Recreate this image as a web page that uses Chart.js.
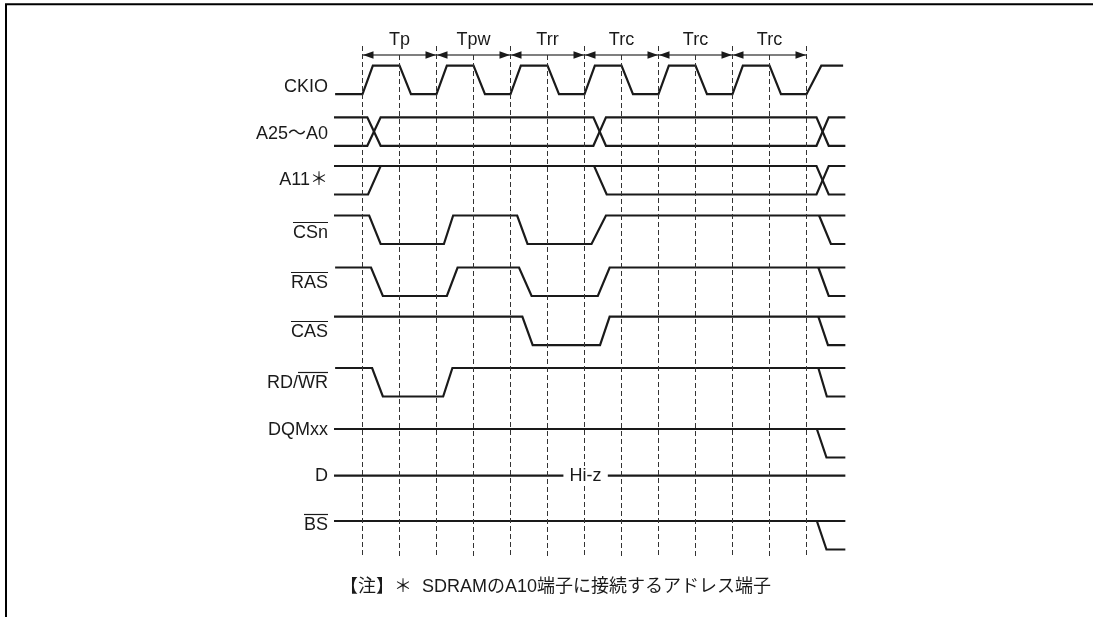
<!DOCTYPE html>
<html>
<head>
<meta charset="utf-8">
<script src="https://cdn.jsdelivr.net/npm/chart.js@4.4.0/dist/chart.umd.min.js"></script>
<style>
  body { margin: 0; background: #fff; }
</style>
</head>
<body>
<canvas id="timingChart" width="1093" height="617"></canvas>
<script>
// Horloge : une ligne pointillée par demi-période (t = 0..12)
const gridTimes = [0, 1, 2, 3, 4, 5, 6, 7, 8, 9, 10, 11, 12];
const phaseLabels = ['Tp', 'Tpw', 'Trr', 'Trc', 'Trc', 'Trc'];
const phaseStart = [0, 2, 4, 6, 8, 10];
const phaseEnd = [2, 4, 6, 8, 10, 12];

const signalLabels = ['CKIO', 'A25〜A0', 'A11＊', 'CSn', 'RAS', 'CAS', 'RD/WR', 'DQMxx', 'D', 'BS'];

// [temps, niveau] : 1 = haut, 0 = bas
const ckio = [[-0.74, 0], [0, 0], [0.28, 1], [1, 1], [1.31, 0], [2, 0], [2.28, 1], [3, 1], [3.31, 0],
  [4, 0], [4.28, 1], [5, 1], [5.31, 0], [6, 0], [6.28, 1], [7, 1], [7.31, 0], [8, 0], [8.28, 1],
  [9, 1], [9.31, 0], [10, 0], [10.28, 1], [11, 1], [11.31, 0], [12, 0], [12.4, 1], [12.99, 1]];
const addrUpper = [[-0.77, 1], [0.13, 1], [0.49, 0], [6.24, 0], [6.58, 1], [12.27, 1], [12.6, 0], [13.05, 0]];
const addrLower = [[-0.77, 0], [0.13, 0], [0.49, 1], [6.24, 1], [6.58, 0], [12.27, 0], [12.6, 1], [13.05, 1]];
const a11 = [[-0.77, 0], [0.15, 0], [0.49, 1], [6.26, 1], [6.6, 0], [12.27, 0], [12.6, 1], [13.05, 1]];
const a11Hold = [[-0.77, 1], [12.27, 1], [12.6, 0], [13.05, 0]];
const csn = [[-0.77, 1], [0.18, 1], [0.49, 0], [2.2, 0], [2.45, 1], [4.18, 1], [4.46, 0], [6.19, 0], [6.58, 1], [13.05, 1]];
const csnEnd = [[12.34, 1], [12.66, 0], [13.05, 0]];
const ras = [[-0.74, 1], [0.23, 1], [0.55, 0], [2.28, 0], [2.57, 1], [4.23, 1], [4.57, 0], [6.36, 0], [6.68, 1], [13.05, 1]];
const rasEnd = [[12.32, 1], [12.6, 0], [13.05, 0]];
const cas = [[-0.77, 1], [4.32, 1], [4.6, 0], [6.42, 0], [6.68, 1], [13.05, 1]];
const casEnd = [[12.32, 1], [12.58, 0], [13.05, 0]];
const rdwr = [[-0.74, 1], [0.26, 1], [0.55, 0], [2.18, 0], [2.43, 1], [13.05, 1]];
const rdwrEnd = [[12.32, 1], [12.55, 0], [13.05, 0]];
const dqm = [[-0.77, 1], [13.05, 1]];
const dqmEnd = [[12.28, 1], [12.54, 0], [13.05, 0]];
const dLeft = [[-0.77, 1], [5.43, 1]];
const dRight = [[6.63, 1], [13.05, 1]];
const bs = [[-0.77, 1], [13.05, 1]];
const bsEnd = [[12.28, 1], [12.54, 0], [13.05, 0]];

// mise en page (pixels)
const rowTop = [65.7, 117.3, 166, 215.5, 267.5, 316.7, 368, 429, 475.7, 521];
const swing = 28.5;
const labelY = [87, 134, 180, 233, 283, 332, 383, 430, 476, 525];
const labelRight = 328;
const FONT = "18px 'Liberation Sans', Arial, 'Noto Sans CJK JP', sans-serif";

const traces = [
  [0, ckio], [1, addrUpper], [1, addrLower], [2, a11], [2, a11Hold],
  [3, csn], [3, csnEnd], [4, ras], [4, rasEnd], [5, cas], [5, casEnd],
  [6, rdwr], [6, rdwrEnd], [7, dqm], [7, dqmEnd], [8, dLeft], [8, dRight], [9, bs], [9, bsEnd]
];

const toPoints = (row, pairs) => pairs.map(p => ({ x: p[0], y: rowTop[row] + (1 - p[1]) * swing }));

const datasets = [];
gridTimes.forEach(t => {
  // les limites de phase montent jusqu'aux libellés, les autres s'arrêtent à la flèche
  const top = phaseStart.includes(t) || phaseEnd.includes(t) ? 46 : 55;
  datasets.push({
    data: [{ x: t, y: top }, { x: t, y: 558 }],
    borderColor: '#333', borderWidth: 1, borderDash: [5, 3], pointRadius: 0, showLine: true
  });
});
phaseStart.forEach((s, i) => {
  datasets.push({
    data: [{ x: s, y: 55 }, { x: phaseEnd[i], y: 55 }],
    borderColor: '#555', borderWidth: 1.5, pointRadius: 0, showLine: true
  });
});
traces.forEach(([row, pairs]) => {
  datasets.push({
    data: toPoints(row, pairs),
    borderColor: '#1a1a1a', borderWidth: 2.2, pointRadius: 0, showLine: true, tension: 0
  });
});

// Textes, flèches, cadre
const extras = {
  id: 'extras',
  beforeDraw(chart) {
    const ctx = chart.ctx;
    ctx.save();
    ctx.fillStyle = '#fff';
    ctx.fillRect(0, 0, chart.width, chart.height);
    ctx.restore();
  },
  afterDatasetsDraw(chart) {
    const ctx = chart.ctx, xs = chart.scales.x, ys = chart.scales.y;
    ctx.save();
    ctx.fillStyle = '#1a1a1a';
    ctx.strokeStyle = '#1a1a1a';
    ctx.font = FONT;

    // têtes de flèche + libellés des phases
    const ay = ys.getPixelForValue(55);
    phaseStart.forEach((s, i) => {
      const x0 = xs.getPixelForValue(s), x1 = xs.getPixelForValue(phaseEnd[i]);
      ctx.beginPath();
      ctx.moveTo(x0 + 0.5, ay); ctx.lineTo(x0 + 11, ay - 3.8); ctx.lineTo(x0 + 11, ay + 3.8); ctx.closePath();
      ctx.fill();
      ctx.beginPath();
      ctx.moveTo(x1 - 0.5, ay); ctx.lineTo(x1 - 11, ay - 3.8); ctx.lineTo(x1 - 11, ay + 3.8); ctx.closePath();
      ctx.fill();
      ctx.textAlign = 'center';
      ctx.textBaseline = 'alphabetic';
      ctx.fillText(phaseLabels[i], (x0 + x1) / 2, 45);
    });

    // noms des signaux
    ctx.textAlign = 'right';
    ctx.textBaseline = 'middle';
    ctx.lineWidth = 1.2;
    signalLabels.forEach((name, i) => {
      const y = labelY[i];
      ctx.fillText(name, labelRight, y);
      let bar = null;
      if (['CSn', 'RAS', 'CAS', 'BS'].includes(name)) bar = [labelRight - ctx.measureText(name).width, labelRight];
      if (name === 'RD/WR') bar = [labelRight - ctx.measureText('WR').width, labelRight];
      if (bar) {
        ctx.beginPath();
        ctx.moveTo(bar[0], y - 10.5); ctx.lineTo(bar[1], y - 10.5);
        ctx.stroke();
      }
    });

    // Hi-z (fond blanc pour couper la ligne pointillée)
    const hx = xs.getPixelForValue(6.03);
    const hw = ctx.measureText('Hi-z').width;
    ctx.fillStyle = '#fff';
    ctx.fillRect(hx - hw / 2 - 1, labelY[8] - 10, hw + 2, 20);
    ctx.fillStyle = '#1a1a1a';
    ctx.textAlign = 'center';
    ctx.fillText('Hi-z', hx, labelY[8]);

    // note
    ctx.textAlign = 'left';
    ctx.fillText('【注】＊  SDRAMのA10端子に接続するアドレス端子', 340, 587);

    // cadre
    ctx.lineWidth = 2;
    ctx.strokeStyle = '#000';
    ctx.beginPath();
    ctx.moveTo(chart.width, 4.3); ctx.lineTo(6, 4.3); ctx.lineTo(6, chart.height);
    ctx.stroke();
    ctx.restore();
  }
};

const timingChart = new Chart(document.getElementById('timingChart'), {
  type: 'scatter',
  data: { datasets: datasets },
  options: {
    responsive: false,
    animation: false,
    events: [],
    layout: { padding: 0 },
    scales: {
      x: { type: 'linear', display: false, min: -362.5 / 37, max: (1093 - 362.5) / 37 },
      y: { type: 'linear', display: false, min: 0, max: 617, reverse: true }
    },
    plugins: {
      legend: { display: false },
      tooltip: { enabled: false }
    }
  },
  plugins: [extras]
});
</script>
</body>
</html>
